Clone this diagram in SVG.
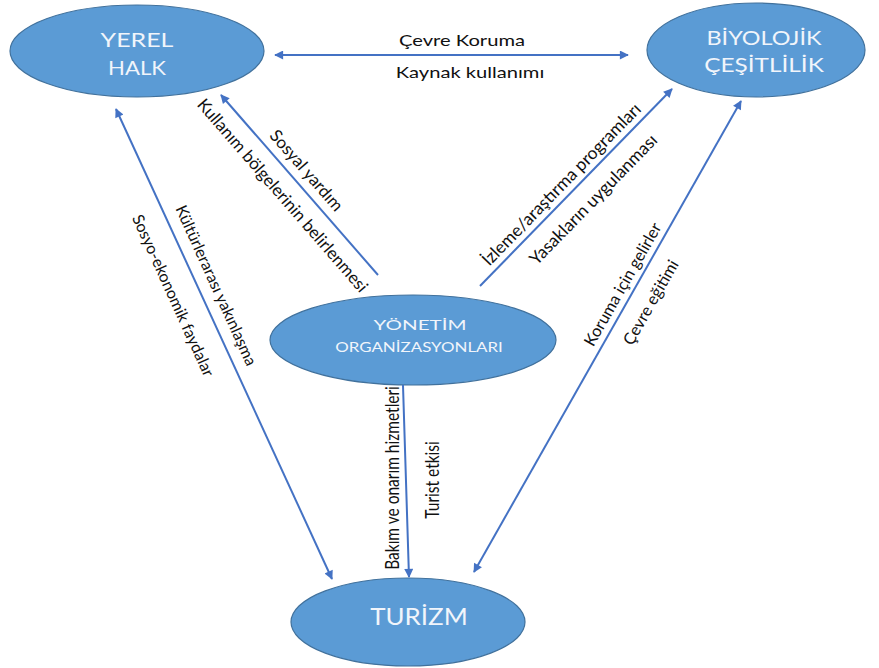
<svg xmlns="http://www.w3.org/2000/svg" width="879" height="668" viewBox="0 0 879 668">
<style>
.node{fill:#5B9BD5;stroke:#41719C;stroke-width:1.2}
.nt{font-family:Lato,"Open Sans",sans-serif;fill:#F1F5FB;text-anchor:middle}
.lb{font-family:Lato,"Open Sans",sans-serif;font-size:15.5px;fill:#111;text-anchor:middle;dominant-baseline:central}
.ln{stroke:#4472C4;stroke-width:2;fill:none}
</style>
<defs>
<marker id="ah" viewBox="0 0 10 10" refX="9" refY="5" markerWidth="11" markerHeight="9" markerUnits="userSpaceOnUse" orient="auto-start-reverse">
<path d="M0,0 L10,5 L0,10 z" fill="#4472C4"/>
</marker>
</defs>
<rect width="879" height="668" fill="#fff"/>
<g id="yerel-halk">
<ellipse class="node" cx="137" cy="51" rx="127" ry="46"/>
<text class="nt" font-size="20" transform="translate(137,47) scale(1.3,1)" textLength="56" lengthAdjust="spacingAndGlyphs">YEREL</text>
<text class="nt" font-size="20" transform="translate(137,75) scale(1.3,1)" textLength="44.6" lengthAdjust="spacingAndGlyphs">HALK</text>
</g>
<g id="biyolojik-cesitlilik">
<ellipse class="node" cx="756" cy="50" rx="109" ry="47"/>
<text class="nt" font-size="18.5" transform="translate(764,45) scale(1.3,1)" textLength="88.5" lengthAdjust="spacingAndGlyphs">BİYOLOJİK</text>
<text class="nt" font-size="18.5" transform="translate(764,72) scale(1.3,1)" textLength="92" lengthAdjust="spacingAndGlyphs">ÇEŞİTLİLİK</text>
</g>
<g id="yonetim-organizasyonlari">
<ellipse class="node" cx="413" cy="340" rx="143" ry="45"/>
<text class="nt" font-size="13.5" transform="translate(420,330) scale(1.3,1)" textLength="71.5" lengthAdjust="spacingAndGlyphs">YÖNETİM</text>
<text class="nt" font-size="13.5" transform="translate(419,352) scale(1.3,1)" textLength="129" lengthAdjust="spacingAndGlyphs">ORGANİZASYONLARI</text>
</g>
<g id="turizm">
<ellipse class="node" cx="408" cy="622" rx="117" ry="44"/>
<text class="nt" font-size="23" transform="translate(419,625) scale(1.3,1)" textLength="75" lengthAdjust="spacingAndGlyphs">TURİZM</text>
</g>
<g id="connectors">
<line class="ln" x1="275" y1="55" x2="628" y2="55" marker-start="url(#ah)" marker-end="url(#ah)"/>
<line class="ln" x1="378" y1="275" x2="221" y2="95" marker-end="url(#ah)"/>
<line class="ln" x1="480" y1="286" x2="672" y2="89" marker-end="url(#ah)"/>
<line class="ln" x1="116" y1="109" x2="332" y2="579" marker-start="url(#ah)" marker-end="url(#ah)"/>
<line class="ln" x1="474" y1="572" x2="741" y2="101" marker-start="url(#ah)" marker-end="url(#ah)"/>
<line class="ln" x1="403" y1="385" x2="409" y2="577" marker-end="url(#ah)"/>
</g>
<g id="labels">
<text class="lb" transform="translate(462,40) scale(1.3,1)">Çevre Koruma</text>
<text class="lb" transform="translate(470,72) scale(1.3,1)">Kaynak kullanımı</text>
<text class="lb" font-size="17" style="font-size:17px" transform="translate(307,170) rotate(49)">Sosyal yardım</text>
<text class="lb" style="font-size:17px" transform="translate(283,195) rotate(49)">Kullanım bölgelerinin belirlenmesi</text>
<text class="lb" style="font-size:17.4px" transform="translate(561,184) rotate(-45.7)">İzleme/araştırma programları</text>
<text class="lb" style="font-size:17.4px" transform="translate(593,199) rotate(-45.7)">Yasakların uygulanması</text>
<text class="lb" style="font-size:16px" transform="translate(217,285) rotate(65.6)">Kültürlerarası yakınlaşma</text>
<text class="lb" style="font-size:16px" transform="translate(174,295) rotate(65.6)">Sosyo-ekonomik faydalar</text>
<text class="lb" style="font-size:16.4px" transform="translate(622,284) rotate(-60.3)">Koruma için gelirler</text>
<text class="lb" style="font-size:16.4px" transform="translate(650,302) rotate(-60.3)">Çevre eğitimi</text>
<text class="lb" transform="translate(391,478) scale(1.3,1) rotate(-90)">Bakım ve onarım hizmetleri</text>
<text class="lb" transform="translate(431,480) scale(1.3,1) rotate(-90)">Turist etkisi</text>
</g>
</svg>
